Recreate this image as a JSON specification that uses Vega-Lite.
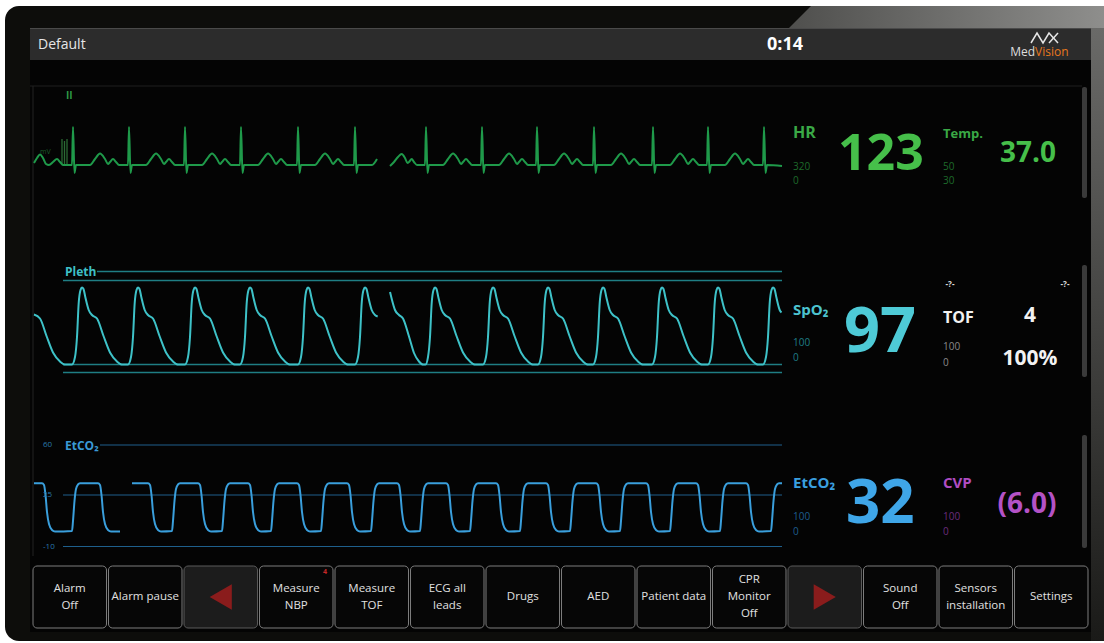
{
"$schema": "https://vega.github.io/schema/vega-lite/v6.json",
"width": 1104, "height": 643,
"autosize": {"type": "fit", "contains": "padding"},
"padding": 0,
"background": "#ffffff",
"config": {"view": {"stroke": null}, "text": {"font": "Open Sans"}},
"encoding": {
  "x": {"field": "x", "type": "quantitative", "scale": {"domain": [0, 1104], "nice": false, "zero": false}, "axis": null},
  "y": {"field": "y", "type": "quantitative", "scale": {"domain": [0, 643], "nice": false, "zero": false, "reverse": true}, "axis": null}
},
"layer": [
  {"data": {"values": [{"x": 5, "x2": 1104, "y": 6, "y2": 641}]},
   "mark": {"type": "rect", "color": "#0d0d0b", "cornerRadiusTopLeft": 14, "cornerRadiusBottomLeft": 14},
   "encoding": {"x2": {"field": "x2"}, "y2": {"field": "y2"}}},
  {"data": {"values": [{"x": 789, "y": 28, "y2": 28}, {"x": 811, "y": 6, "y2": 28}, {"x": 1104, "y": 6, "y2": 28}]},
   "mark": {"type": "area", "orient": "vertical", "interpolate": "linear",
     "color": {"gradient": "linear", "x1": 0, "x2": 1, "y1": 0, "y2": 0, "stops": [{"offset": 0, "color": "#4f4f4d"}, {"offset": 1, "color": "#8e8e8c"}]}},
   "encoding": {"y2": {"field": "y2"}}},
  {"data": {"values": [{"x": 1091, "x2": 1104, "y": 28, "y2": 641}]},
   "mark": {"type": "rect",
     "color": {"gradient": "linear", "x1": 0, "x2": 0, "y1": 0, "y2": 1, "stops": [{"offset": 0, "color": "#6a6a68"}, {"offset": 0.6, "color": "#3a3a38"}, {"offset": 1, "color": "#1a1a18"}]}},
   "encoding": {"x2": {"field": "x2"}, "y2": {"field": "y2"}}},
  {"data": {"values": [{"x": 30, "x2": 1091, "y": 28, "y2": 632}]},
   "mark": {"type": "rect", "color": "#040404"},
   "encoding": {"x2": {"field": "x2"}, "y2": {"field": "y2"}}},
  {"data": {"values": [{"x": 30, "x2": 1091, "y": 28, "y2": 60}]},
   "mark": {"type": "rect", "color": "#2c2c2c"},
   "encoding": {"x2": {"field": "x2"}, "y2": {"field": "y2"}}},
  {"data": {"values": [{"x": 30, "x2": 1091, "y": 28.5}]},
   "mark": {"type": "rule", "color": "#4a4a4a", "strokeWidth": 1},
   "encoding": {"x2": {"field": "x2"}}},
  {"data": {"values": [{"x": 30, "x2": 1082, "y": 86}]},
   "mark": {"type": "rule", "color": "#1e1e1e", "strokeWidth": 1},
   "encoding": {"x2": {"field": "x2"}}},
  {"data": {"values": [{"x": 33, "y": 86, "y2": 556}]},
   "mark": {"type": "rule", "color": "#222222", "strokeWidth": 1},
   "encoding": {"y2": {"field": "y2"}}},
  {"data": {"values": [{"x": 1082, "x2": 1087, "y": 87, "y2": 198}, {"x": 1082, "x2": 1087, "y": 265, "y2": 377}, {"x": 1082, "x2": 1087, "y": 435, "y2": 548}]},
   "mark": {"type": "rect", "color": "#3a3a3a", "cornerRadius": 2},
   "encoding": {"x2": {"field": "x2"}, "y2": {"field": "y2"}}},
  {"data": {"values": [
     {"x": 33, "x2": 106.5, "y": 566, "y2": 628},
     {"x": 108.5, "x2": 182, "y": 566, "y2": 628},
     {"x": 259.5, "x2": 333, "y": 566, "y2": 628},
     {"x": 335, "x2": 408.5, "y": 566, "y2": 628},
     {"x": 410.5, "x2": 484, "y": 566, "y2": 628},
     {"x": 486, "x2": 559.5, "y": 566, "y2": 628},
     {"x": 561.5, "x2": 635, "y": 566, "y2": 628},
     {"x": 637, "x2": 710.5, "y": 566, "y2": 628},
     {"x": 712.5, "x2": 786, "y": 566, "y2": 628},
     {"x": 863.5, "x2": 937, "y": 566, "y2": 628},
     {"x": 939, "x2": 1012.5, "y": 566, "y2": 628},
     {"x": 1014.5, "x2": 1088, "y": 566, "y2": 628}]},
   "mark": {"type": "rect", "fill": "#060606", "stroke": "#7c7c7c", "strokeWidth": 1, "cornerRadius": 4},
   "encoding": {"x2": {"field": "x2"}, "y2": {"field": "y2"}}},
  {"data": {"values": [{"x": 184, "x2": 257.5, "y": 566, "y2": 628}, {"x": 788, "x2": 861.5, "y": 566, "y2": 628}]},
   "mark": {"type": "rect", "fill": "#1c1c1c", "stroke": "#5a5a5a", "strokeWidth": 1, "cornerRadius": 4},
   "encoding": {"x2": {"field": "x2"}, "y2": {"field": "y2"}}},
  {"data": {"values": [{"x": 220.75, "y": 597}]},
   "mark": {"type": "point", "shape": "triangle-left", "size": 650, "filled": true, "color": "#8a1c1c", "opacity": 1}},
  {"data": {"values": [{"x": 824.75, "y": 597}]},
   "mark": {"type": "point", "shape": "triangle-right", "size": 650, "filled": true, "color": "#8a1c1c", "opacity": 1}},
  {"data": {"values": [
     {"x": 69.75, "y": 588.5, "t": "Alarm\nOff"},
     {"x": 145.25, "y": 597, "t": "Alarm pause"},
     {"x": 296.25, "y": 588.5, "t": "Measure\nNBP"},
     {"x": 371.75, "y": 588.5, "t": "Measure\nTOF"},
     {"x": 447.25, "y": 588.5, "t": "ECG all\nleads"},
     {"x": 522.75, "y": 597, "t": "Drugs"},
     {"x": 598.25, "y": 597, "t": "AED"},
     {"x": 673.75, "y": 597, "t": "Patient data"},
     {"x": 749.25, "y": 580, "t": "CPR\nMonitor\nOff"},
     {"x": 900.25, "y": 588.5, "t": "Sound\nOff"},
     {"x": 975.75, "y": 588.5, "t": "Sensors\ninstallation"},
     {"x": 1051.25, "y": 597, "t": "Settings"}]},
   "mark": {"type": "text", "fontSize": 11.5, "color": "#e0e0e0", "align": "center", "baseline": "middle", "lineBreak": "\n", "lineHeight": 17},
   "encoding": {"text": {"field": "t"}}},
  {"data": {"values": [{"x": 325, "y": 572, "t": "4"}]},
   "mark": {"type": "text", "fontSize": 7, "fontWeight": "bold", "color": "#c62828", "align": "center", "baseline": "middle"},
   "encoding": {"text": {"field": "t"}}},
  {"data": {"values": [{"x": 97, "x2": 782, "y": 271.5}, {"x": 63, "x2": 782, "y": 280.5}, {"x": 63, "x2": 782, "y": 364.5}, {"x": 63, "x2": 782, "y": 372.5}]},
   "mark": {"type": "rule", "color": "#1f7e84", "strokeWidth": 1.5},
   "encoding": {"x2": {"field": "x2"}}},
  {"data": {"values": [{"x": 100, "x2": 782, "y": 445}, {"x": 63, "x2": 782, "y": 495}, {"x": 63, "x2": 782, "y": 546.5}]},
   "mark": {"type": "rule", "color": "#1e5f8c", "strokeWidth": 1.2},
   "encoding": {"x2": {"field": "x2"}}},
  {"data": {"values": [{"x": 62, "y": 139, "y2": 164}, {"x": 64.5, "y": 141, "y2": 164}, {"x": 67, "y": 139, "y2": 164}]},
   "mark": {"type": "rule", "color": "#2a6a34", "strokeWidth": 1.3},
   "encoding": {"y2": {"field": "y2"}}},
  {"data": {"values": [
     {"s":"a","x":34,"y":163},{"s":"a","x":37,"y":158},{"s":"a","x":40,"y":154.5},{"s":"a","x":43,"y":158},{"s":"a","x":46,"y":164},{"s":"a","x":49,"y":165},{"s":"a","x":53,"y":162},{"s":"a","x":57,"y":159},{"s":"a","x":60,"y":162},{"s":"a","x":63,"y":165},
     {"s":"a","x":72,"y":165},{"s":"a","x":73,"y":127},{"s":"a","x":74.5,"y":173},{"s":"a","x":76,"y":165},{"s":"a","x":90,"y":165},{"s":"a","x":95,"y":159},{"s":"a","x":100,"y":153.5},{"s":"a","x":105,"y":159},{"s":"a","x":108,"y":164},{"s":"a","x":110,"y":162},{"s":"a","x":113,"y":159},{"s":"a","x":116,"y":162},{"s":"a","x":119,"y":165},
     {"s":"a","x":128,"y":165},{"s":"a","x":129,"y":127},{"s":"a","x":130.5,"y":173},{"s":"a","x":132,"y":165},{"s":"a","x":146,"y":165},{"s":"a","x":151,"y":159},{"s":"a","x":156,"y":153.5},{"s":"a","x":161,"y":159},{"s":"a","x":164,"y":164},{"s":"a","x":166,"y":162},{"s":"a","x":169,"y":159},{"s":"a","x":172,"y":162},{"s":"a","x":175,"y":165},
     {"s":"a","x":184,"y":165},{"s":"a","x":185,"y":127},{"s":"a","x":186.5,"y":173},{"s":"a","x":188,"y":165},{"s":"a","x":202,"y":165},{"s":"a","x":207,"y":159},{"s":"a","x":212,"y":153.5},{"s":"a","x":217,"y":159},{"s":"a","x":220,"y":164},{"s":"a","x":222,"y":162},{"s":"a","x":225,"y":159},{"s":"a","x":228,"y":162},{"s":"a","x":231,"y":165},
     {"s":"a","x":240,"y":165},{"s":"a","x":241,"y":127},{"s":"a","x":242.5,"y":173},{"s":"a","x":244,"y":165},{"s":"a","x":258,"y":165},{"s":"a","x":263,"y":159},{"s":"a","x":268,"y":153.5},{"s":"a","x":273,"y":159},{"s":"a","x":276,"y":164},{"s":"a","x":278,"y":162},{"s":"a","x":281,"y":159},{"s":"a","x":284,"y":162},{"s":"a","x":287,"y":165},
     {"s":"a","x":297,"y":165},{"s":"a","x":298,"y":127},{"s":"a","x":299.5,"y":173},{"s":"a","x":301,"y":165},{"s":"a","x":315,"y":165},{"s":"a","x":320,"y":159},{"s":"a","x":325,"y":153.5},{"s":"a","x":330,"y":159},{"s":"a","x":333,"y":164},{"s":"a","x":335,"y":162},{"s":"a","x":338,"y":159},{"s":"a","x":341,"y":162},{"s":"a","x":344,"y":165},
     {"s":"a","x":354,"y":165},{"s":"a","x":355,"y":127},{"s":"a","x":356.5,"y":173},{"s":"a","x":358,"y":165},{"s":"a","x":372,"y":165},{"s":"a","x":377,"y":159},
     {"s":"b","x":390,"y":166},{"s":"b","x":394,"y":162},{"s":"b","x":398,"y":157},{"s":"b","x":401.7,"y":154},{"s":"b","x":405,"y":158},{"s":"b","x":407.5,"y":163},{"s":"b","x":409,"y":162},{"s":"b","x":411.7,"y":159},{"s":"b","x":414,"y":162},{"s":"b","x":417,"y":165},
     {"s":"b","x":425,"y":165},{"s":"b","x":426,"y":127},{"s":"b","x":427.5,"y":173},{"s":"b","x":429,"y":165},{"s":"b","x":443,"y":165},{"s":"b","x":448,"y":159},{"s":"b","x":453,"y":153.5},{"s":"b","x":458,"y":159},{"s":"b","x":461,"y":164},{"s":"b","x":463,"y":162},{"s":"b","x":466,"y":159},{"s":"b","x":469,"y":162},{"s":"b","x":472,"y":165},
     {"s":"b","x":481,"y":165},{"s":"b","x":482,"y":127},{"s":"b","x":483.5,"y":173},{"s":"b","x":485,"y":165},{"s":"b","x":499,"y":165},{"s":"b","x":504,"y":159},{"s":"b","x":509,"y":153.5},{"s":"b","x":514,"y":159},{"s":"b","x":517,"y":164},{"s":"b","x":519,"y":162},{"s":"b","x":522,"y":159},{"s":"b","x":525,"y":162},{"s":"b","x":528,"y":165},
     {"s":"b","x":536,"y":165},{"s":"b","x":537,"y":127},{"s":"b","x":538.5,"y":173},{"s":"b","x":540,"y":165},{"s":"b","x":554,"y":165},{"s":"b","x":559,"y":159},{"s":"b","x":564,"y":153.5},{"s":"b","x":569,"y":159},{"s":"b","x":572,"y":164},{"s":"b","x":574,"y":162},{"s":"b","x":577,"y":159},{"s":"b","x":580,"y":162},{"s":"b","x":583,"y":165},
     {"s":"b","x":593,"y":165},{"s":"b","x":594,"y":127},{"s":"b","x":595.5,"y":173},{"s":"b","x":597,"y":165},{"s":"b","x":611,"y":165},{"s":"b","x":616,"y":159},{"s":"b","x":621,"y":153.5},{"s":"b","x":626,"y":159},{"s":"b","x":629,"y":164},{"s":"b","x":631,"y":162},{"s":"b","x":634,"y":159},{"s":"b","x":637,"y":162},{"s":"b","x":640,"y":165},
     {"s":"b","x":652,"y":165},{"s":"b","x":653,"y":127},{"s":"b","x":654.5,"y":173},{"s":"b","x":656,"y":165},{"s":"b","x":670,"y":165},{"s":"b","x":675,"y":159},{"s":"b","x":680,"y":153.5},{"s":"b","x":685,"y":159},{"s":"b","x":688,"y":164},{"s":"b","x":690,"y":162},{"s":"b","x":693,"y":159},{"s":"b","x":696,"y":162},{"s":"b","x":699,"y":165},
     {"s":"b","x":707,"y":165},{"s":"b","x":708,"y":127},{"s":"b","x":709.5,"y":173},{"s":"b","x":711,"y":165},{"s":"b","x":725,"y":165},{"s":"b","x":730,"y":159},{"s":"b","x":735,"y":153.5},{"s":"b","x":740,"y":159},{"s":"b","x":743,"y":164},{"s":"b","x":745,"y":162},{"s":"b","x":748,"y":159},{"s":"b","x":751,"y":162},{"s":"b","x":754,"y":165},
     {"s":"b","x":763,"y":165},{"s":"b","x":764,"y":127},{"s":"b","x":765.5,"y":173},{"s":"b","x":767,"y":165},{"s":"b","x":782,"y":166}]},
   "mark": {"type": "line", "color": "#1f9a4a", "strokeWidth": 2, "interpolate": "monotone"},
   "encoding": {"detail": {"field": "s"}}},
  {"data": {"values": [
     {"s":"a","x":34,"y":314.5},{"s":"a","x":40,"y":318.5},{"s":"a","x":46.7,"y":336.5},{"s":"a","x":53.3,"y":353},{"s":"a","x":60,"y":361.5},{"s":"a","x":65,"y":364.5},
     {"s":"a","x":72,"y":364.5},{"s":"a","x":75,"y":357},{"s":"a","x":77,"y":337},{"s":"a","x":78.7,"y":303},{"s":"a","x":80.5,"y":290},{"s":"a","x":82,"y":287.5},{"s":"a","x":83.5,"y":289},{"s":"a","x":85.3,"y":297},{"s":"a","x":88.7,"y":310},{"s":"a","x":92,"y":315},{"s":"a","x":97,"y":318.5},{"s":"a","x":103.7,"y":336.5},{"s":"a","x":110.3,"y":353},{"s":"a","x":117,"y":361.5},{"s":"a","x":122,"y":364.5},
     {"s":"a","x":128,"y":364.5},{"s":"a","x":131,"y":357},{"s":"a","x":133,"y":337},{"s":"a","x":134.7,"y":303},{"s":"a","x":136.5,"y":290},{"s":"a","x":138,"y":287.5},{"s":"a","x":139.5,"y":289},{"s":"a","x":141.3,"y":297},{"s":"a","x":144.7,"y":310},{"s":"a","x":148,"y":315},{"s":"a","x":153,"y":318.5},{"s":"a","x":159.7,"y":336.5},{"s":"a","x":166.3,"y":353},{"s":"a","x":173,"y":361.5},{"s":"a","x":178,"y":364.5},
     {"s":"a","x":185,"y":364.5},{"s":"a","x":188,"y":357},{"s":"a","x":190,"y":337},{"s":"a","x":191.7,"y":303},{"s":"a","x":193.5,"y":290},{"s":"a","x":195,"y":287.5},{"s":"a","x":196.5,"y":289},{"s":"a","x":198.3,"y":297},{"s":"a","x":201.7,"y":310},{"s":"a","x":205,"y":315},{"s":"a","x":210,"y":318.5},{"s":"a","x":216.7,"y":336.5},{"s":"a","x":223.3,"y":353},{"s":"a","x":230,"y":361.5},{"s":"a","x":235,"y":364.5},
     {"s":"a","x":240,"y":364.5},{"s":"a","x":243,"y":357},{"s":"a","x":245,"y":337},{"s":"a","x":246.7,"y":303},{"s":"a","x":248.5,"y":290},{"s":"a","x":250,"y":287.5},{"s":"a","x":251.5,"y":289},{"s":"a","x":253.3,"y":297},{"s":"a","x":256.7,"y":310},{"s":"a","x":260,"y":315},{"s":"a","x":265,"y":318.5},{"s":"a","x":271.7,"y":336.5},{"s":"a","x":278.3,"y":353},{"s":"a","x":285,"y":361.5},{"s":"a","x":290,"y":364.5},
     {"s":"a","x":298,"y":364.5},{"s":"a","x":301,"y":357},{"s":"a","x":303,"y":337},{"s":"a","x":304.7,"y":303},{"s":"a","x":306.5,"y":290},{"s":"a","x":308,"y":287.5},{"s":"a","x":309.5,"y":289},{"s":"a","x":311.3,"y":297},{"s":"a","x":314.7,"y":310},{"s":"a","x":318,"y":315},{"s":"a","x":323,"y":318.5},{"s":"a","x":329.7,"y":336.5},{"s":"a","x":336.3,"y":353},{"s":"a","x":343,"y":361.5},{"s":"a","x":348,"y":364.5},
     {"s":"a","x":355,"y":364.5},{"s":"a","x":358,"y":357},{"s":"a","x":360,"y":337},{"s":"a","x":361.7,"y":303},{"s":"a","x":363.5,"y":290},{"s":"a","x":365,"y":287.5},{"s":"a","x":366.5,"y":289},{"s":"a","x":368.3,"y":297},{"s":"a","x":371.7,"y":310},{"s":"a","x":375,"y":315},{"s":"a","x":377.7,"y":316.5},
     {"s":"b","x":390,"y":292},{"s":"b","x":392,"y":300},{"s":"b","x":395,"y":310},{"s":"b","x":399,"y":315},{"s":"b","x":403,"y":318.5},{"s":"b","x":409,"y":336.5},{"s":"b","x":414,"y":353},{"s":"b","x":419,"y":361.5},{"s":"b","x":423,"y":364.5},
     {"s":"b","x":425.5,"y":364.5},{"s":"b","x":428,"y":357},{"s":"b","x":430,"y":337},{"s":"b","x":431.7,"y":303},{"s":"b","x":433.5,"y":290},{"s":"b","x":435,"y":287.5},{"s":"b","x":436.5,"y":289},{"s":"b","x":438.3,"y":297},{"s":"b","x":441.7,"y":310},{"s":"b","x":445,"y":315},{"s":"b","x":450,"y":318.5},{"s":"b","x":456.7,"y":336.5},{"s":"b","x":463.3,"y":353},{"s":"b","x":470,"y":361.5},{"s":"b","x":475,"y":364.5},
     {"s":"b","x":483,"y":364.5},{"s":"b","x":486,"y":357},{"s":"b","x":488,"y":337},{"s":"b","x":489.7,"y":303},{"s":"b","x":491.5,"y":290},{"s":"b","x":493,"y":287.5},{"s":"b","x":494.5,"y":289},{"s":"b","x":496.3,"y":297},{"s":"b","x":499.7,"y":310},{"s":"b","x":503,"y":315},{"s":"b","x":508,"y":318.5},{"s":"b","x":514.7,"y":336.5},{"s":"b","x":521.3,"y":353},{"s":"b","x":528,"y":361.5},{"s":"b","x":533,"y":364.5},
     {"s":"b","x":538,"y":364.5},{"s":"b","x":541,"y":357},{"s":"b","x":543,"y":337},{"s":"b","x":544.7,"y":303},{"s":"b","x":546.5,"y":290},{"s":"b","x":548,"y":287.5},{"s":"b","x":549.5,"y":289},{"s":"b","x":551.3,"y":297},{"s":"b","x":554.7,"y":310},{"s":"b","x":558,"y":315},{"s":"b","x":563,"y":318.5},{"s":"b","x":569.7,"y":336.5},{"s":"b","x":576.3,"y":353},{"s":"b","x":583,"y":361.5},{"s":"b","x":588,"y":364.5},
     {"s":"b","x":593,"y":364.5},{"s":"b","x":596,"y":357},{"s":"b","x":598,"y":337},{"s":"b","x":599.7,"y":303},{"s":"b","x":601.5,"y":290},{"s":"b","x":603,"y":287.5},{"s":"b","x":604.5,"y":289},{"s":"b","x":606.3,"y":297},{"s":"b","x":609.7,"y":310},{"s":"b","x":613,"y":315},{"s":"b","x":618,"y":318.5},{"s":"b","x":624.7,"y":336.5},{"s":"b","x":631.3,"y":353},{"s":"b","x":638,"y":361.5},{"s":"b","x":643,"y":364.5},
     {"s":"b","x":652,"y":364.5},{"s":"b","x":655,"y":357},{"s":"b","x":657,"y":337},{"s":"b","x":658.7,"y":303},{"s":"b","x":660.5,"y":290},{"s":"b","x":662,"y":287.5},{"s":"b","x":663.5,"y":289},{"s":"b","x":665.3,"y":297},{"s":"b","x":668.7,"y":310},{"s":"b","x":672,"y":315},{"s":"b","x":677,"y":318.5},{"s":"b","x":683.7,"y":336.5},{"s":"b","x":690.3,"y":353},{"s":"b","x":697,"y":361.5},{"s":"b","x":702,"y":364.5},
     {"s":"b","x":708,"y":364.5},{"s":"b","x":711,"y":357},{"s":"b","x":713,"y":337},{"s":"b","x":714.7,"y":303},{"s":"b","x":716.5,"y":290},{"s":"b","x":718,"y":287.5},{"s":"b","x":719.5,"y":289},{"s":"b","x":721.3,"y":297},{"s":"b","x":724.7,"y":310},{"s":"b","x":728,"y":315},{"s":"b","x":733,"y":318.5},{"s":"b","x":739.7,"y":336.5},{"s":"b","x":746.3,"y":353},{"s":"b","x":753,"y":361.5},{"s":"b","x":758,"y":364.5},
     {"s":"b","x":763,"y":364.5},{"s":"b","x":766,"y":357},{"s":"b","x":768,"y":337},{"s":"b","x":769.7,"y":303},{"s":"b","x":771.5,"y":290},{"s":"b","x":773,"y":287.5},{"s":"b","x":774.5,"y":289},{"s":"b","x":776.3,"y":297},{"s":"b","x":779.7,"y":310},{"s":"b","x":781.5,"y":312.5}]},
   "mark": {"type": "line", "color": "#3ec2c8", "strokeWidth": 2, "interpolate": "monotone"},
   "encoding": {"detail": {"field": "s"}}},
  {"data": {"values": [
     {"s":"a","x":34,"y":483.3},{"s":"a","x":42,"y":483.3},{"s":"a","x":44,"y":485},{"s":"a","x":45.5,"y":495},{"s":"a","x":47,"y":512},{"s":"a","x":49,"y":524},{"s":"a","x":52,"y":530},{"s":"a","x":55,"y":531.5},
     {"s":"a","x":72,"y":531},{"s":"a","x":73,"y":521},{"s":"a","x":74.5,"y":501},{"s":"a","x":76,"y":489},{"s":"a","x":78,"y":484.5},{"s":"a","x":80,"y":483.3},{"s":"a","x":98,"y":483.3},{"s":"a","x":100,"y":485},{"s":"a","x":101.5,"y":495},{"s":"a","x":103,"y":512},{"s":"a","x":105,"y":524},{"s":"a","x":108,"y":530},{"s":"a","x":111,"y":531.5},{"s":"a","x":120,"y":531.5},
     {"s":"b","x":132,"y":483.3},{"s":"b","x":148,"y":483.3},{"s":"b","x":150,"y":485},{"s":"b","x":151.5,"y":495},{"s":"b","x":153,"y":512},{"s":"b","x":155,"y":524},{"s":"b","x":158,"y":530},{"s":"b","x":161,"y":531.5},
     {"s":"b","x":172,"y":531},{"s":"b","x":173,"y":521},{"s":"b","x":174.5,"y":501},{"s":"b","x":176,"y":489},{"s":"b","x":178,"y":484.5},{"s":"b","x":180,"y":483.3},{"s":"b","x":198,"y":483.3},{"s":"b","x":200,"y":485},{"s":"b","x":201.5,"y":495},{"s":"b","x":203,"y":512},{"s":"b","x":205,"y":524},{"s":"b","x":208,"y":530},{"s":"b","x":211,"y":531.5},
     {"s":"b","x":222,"y":531},{"s":"b","x":223,"y":521},{"s":"b","x":224.5,"y":501},{"s":"b","x":226,"y":489},{"s":"b","x":228,"y":484.5},{"s":"b","x":230,"y":483.3},{"s":"b","x":248,"y":483.3},{"s":"b","x":250,"y":485},{"s":"b","x":251.5,"y":495},{"s":"b","x":253,"y":512},{"s":"b","x":255,"y":524},{"s":"b","x":258,"y":530},{"s":"b","x":261,"y":531.5},
     {"s":"b","x":271,"y":531},{"s":"b","x":272,"y":521},{"s":"b","x":273.5,"y":501},{"s":"b","x":275,"y":489},{"s":"b","x":277,"y":484.5},{"s":"b","x":279,"y":483.3},{"s":"b","x":297,"y":483.3},{"s":"b","x":299,"y":485},{"s":"b","x":300.5,"y":495},{"s":"b","x":302,"y":512},{"s":"b","x":304,"y":524},{"s":"b","x":307,"y":530},{"s":"b","x":310,"y":531.5},
     {"s":"b","x":321,"y":531},{"s":"b","x":322,"y":521},{"s":"b","x":323.5,"y":501},{"s":"b","x":325,"y":489},{"s":"b","x":327,"y":484.5},{"s":"b","x":329,"y":483.3},{"s":"b","x":347,"y":483.3},{"s":"b","x":349,"y":485},{"s":"b","x":350.5,"y":495},{"s":"b","x":352,"y":512},{"s":"b","x":354,"y":524},{"s":"b","x":357,"y":530},{"s":"b","x":360,"y":531.5},
     {"s":"b","x":371,"y":531},{"s":"b","x":372,"y":521},{"s":"b","x":373.5,"y":501},{"s":"b","x":375,"y":489},{"s":"b","x":377,"y":484.5},{"s":"b","x":379,"y":483.3},{"s":"b","x":397,"y":483.3},{"s":"b","x":399,"y":485},{"s":"b","x":400.5,"y":495},{"s":"b","x":402,"y":512},{"s":"b","x":404,"y":524},{"s":"b","x":407,"y":530},{"s":"b","x":410,"y":531.5},
     {"s":"b","x":420,"y":531},{"s":"b","x":421,"y":521},{"s":"b","x":422.5,"y":501},{"s":"b","x":424,"y":489},{"s":"b","x":426,"y":484.5},{"s":"b","x":428,"y":483.3},{"s":"b","x":446,"y":483.3},{"s":"b","x":448,"y":485},{"s":"b","x":449.5,"y":495},{"s":"b","x":451,"y":512},{"s":"b","x":453,"y":524},{"s":"b","x":456,"y":530},{"s":"b","x":459,"y":531.5},
     {"s":"b","x":470,"y":531},{"s":"b","x":471,"y":521},{"s":"b","x":472.5,"y":501},{"s":"b","x":474,"y":489},{"s":"b","x":476,"y":484.5},{"s":"b","x":478,"y":483.3},{"s":"b","x":496,"y":483.3},{"s":"b","x":498,"y":485},{"s":"b","x":499.5,"y":495},{"s":"b","x":501,"y":512},{"s":"b","x":503,"y":524},{"s":"b","x":506,"y":530},{"s":"b","x":509,"y":531.5},
     {"s":"b","x":520,"y":531},{"s":"b","x":521,"y":521},{"s":"b","x":522.5,"y":501},{"s":"b","x":524,"y":489},{"s":"b","x":526,"y":484.5},{"s":"b","x":528,"y":483.3},{"s":"b","x":546,"y":483.3},{"s":"b","x":548,"y":485},{"s":"b","x":549.5,"y":495},{"s":"b","x":551,"y":512},{"s":"b","x":553,"y":524},{"s":"b","x":556,"y":530},{"s":"b","x":559,"y":531.5},
     {"s":"b","x":570,"y":531},{"s":"b","x":571,"y":521},{"s":"b","x":572.5,"y":501},{"s":"b","x":574,"y":489},{"s":"b","x":576,"y":484.5},{"s":"b","x":578,"y":483.3},{"s":"b","x":596,"y":483.3},{"s":"b","x":598,"y":485},{"s":"b","x":599.5,"y":495},{"s":"b","x":601,"y":512},{"s":"b","x":603,"y":524},{"s":"b","x":606,"y":530},{"s":"b","x":609,"y":531.5},
     {"s":"b","x":620,"y":531},{"s":"b","x":621,"y":521},{"s":"b","x":622.5,"y":501},{"s":"b","x":624,"y":489},{"s":"b","x":626,"y":484.5},{"s":"b","x":628,"y":483.3},{"s":"b","x":646,"y":483.3},{"s":"b","x":648,"y":485},{"s":"b","x":649.5,"y":495},{"s":"b","x":651,"y":512},{"s":"b","x":653,"y":524},{"s":"b","x":656,"y":530},{"s":"b","x":659,"y":531.5},
     {"s":"b","x":670,"y":531},{"s":"b","x":671,"y":521},{"s":"b","x":672.5,"y":501},{"s":"b","x":674,"y":489},{"s":"b","x":676,"y":484.5},{"s":"b","x":678,"y":483.3},{"s":"b","x":696,"y":483.3},{"s":"b","x":698,"y":485},{"s":"b","x":699.5,"y":495},{"s":"b","x":701,"y":512},{"s":"b","x":703,"y":524},{"s":"b","x":706,"y":530},{"s":"b","x":709,"y":531.5},
     {"s":"b","x":720,"y":531},{"s":"b","x":721,"y":521},{"s":"b","x":722.5,"y":501},{"s":"b","x":724,"y":489},{"s":"b","x":726,"y":484.5},{"s":"b","x":728,"y":483.3},{"s":"b","x":746,"y":483.3},{"s":"b","x":748,"y":485},{"s":"b","x":749.5,"y":495},{"s":"b","x":751,"y":512},{"s":"b","x":753,"y":524},{"s":"b","x":756,"y":530},{"s":"b","x":759,"y":531.5},
     {"s":"b","x":771,"y":531},{"s":"b","x":772,"y":521},{"s":"b","x":773.5,"y":501},{"s":"b","x":775,"y":489},{"s":"b","x":777,"y":484.5},{"s":"b","x":779,"y":483.3},{"s":"b","x":782,"y":483.3}]},
   "mark": {"type": "line", "color": "#3a9fdc", "strokeWidth": 2, "interpolate": "monotone"},
   "encoding": {"detail": {"field": "s"}}},
  {"data": {"values": [
     {"g":"z","x":1031,"y":43},{"g":"z","x":1037,"y":33},{"g":"z","x":1043,"y":43},{"g":"z","x":1049,"y":33},{"g":"z","x":1058,"y":43},
     {"g":"k","x":1049,"y":43},{"g":"k","x":1058,"y":33}]},
   "mark": {"type": "line", "color": "#e6e6e6", "strokeWidth": 1.5, "interpolate": "linear"},
   "encoding": {"detail": {"field": "g"}}},
  {"data": {"values": [{"x": 38, "y": 45, "t": "Default"}]},
   "mark": {"type": "text", "fontSize": 14, "color": "#e6e6e6", "align": "left", "baseline": "middle"},
   "encoding": {"text": {"field": "t"}}},
  {"data": {"values": [{"x": 785, "y": 45, "t": "0:14"}]},
   "mark": {"type": "text", "fontSize": 18, "fontWeight": "bold", "color": "#ffffff", "align": "center", "baseline": "middle"},
   "encoding": {"text": {"field": "t"}}},
  {"data": {"values": [{"x": 1035, "y": 52, "t": "Med"}]},
   "mark": {"type": "text", "fontSize": 12, "color": "#dddddd", "align": "right", "baseline": "middle"},
   "encoding": {"text": {"field": "t"}}},
  {"data": {"values": [{"x": 1035, "y": 52, "t": "Vision"}]},
   "mark": {"type": "text", "fontSize": 12, "color": "#e8781e", "align": "left", "baseline": "middle"},
   "encoding": {"text": {"field": "t"}}},
  {"data": {"values": [{"x": 66, "y": 96, "t": "II"}]},
   "mark": {"type": "text", "fontSize": 10, "fontWeight": "bold", "color": "#2e9a46", "align": "left", "baseline": "middle"},
   "encoding": {"text": {"field": "t"}}},
  {"data": {"values": [{"x": 40, "y": 152, "t": "mV"}]},
   "mark": {"type": "text", "fontSize": 7, "color": "#1c5e2a", "align": "left", "baseline": "middle"},
   "encoding": {"text": {"field": "t"}}},
  {"data": {"values": [{"x": 65, "y": 272, "t": "Pleth"}]},
   "mark": {"type": "text", "fontSize": 12, "fontWeight": "bold", "color": "#3ec0c6", "align": "left", "baseline": "middle"},
   "encoding": {"text": {"field": "t"}}},
  {"data": {"values": [{"x": 65, "y": 446, "t": "EtCO₂"}]},
   "mark": {"type": "text", "fontSize": 12, "fontWeight": "bold", "color": "#3a9ad6", "align": "left", "baseline": "middle"},
   "encoding": {"text": {"field": "t"}}},
  {"data": {"values": [{"x": 43, "y": 445, "t": "60"}, {"x": 43, "y": 495, "t": "25"}, {"x": 43, "y": 547, "t": "-10"}]},
   "mark": {"type": "text", "fontSize": 8, "color": "#2a79ab", "align": "left", "baseline": "middle"},
   "encoding": {"text": {"field": "t"}}},
  {"data": {"values": [{"x": 793, "y": 132.5, "t": "HR"}]},
   "mark": {"type": "text", "fontSize": 16, "fontWeight": "bold", "color": "#3aa946", "align": "left", "baseline": "middle"},
   "encoding": {"text": {"field": "t"}}},
  {"data": {"values": [{"x": 943, "y": 134, "t": "Temp."}]},
   "mark": {"type": "text", "fontSize": 13, "fontWeight": "bold", "color": "#3aa946", "align": "left", "baseline": "middle"},
   "encoding": {"text": {"field": "t"}}},
  {"data": {"values": [{"x": 793, "y": 166.7, "t": "320"}, {"x": 793, "y": 181, "t": "0"}, {"x": 943, "y": 166.7, "t": "50"}, {"x": 943, "y": 181, "t": "30"}]},
   "mark": {"type": "text", "fontSize": 10, "color": "#1e6b2b", "align": "left", "baseline": "middle"},
   "encoding": {"text": {"field": "t"}}},
  {"data": {"values": [{"x": 838, "y": 170, "t": "123"}]},
   "mark": {"type": "text", "fontSize": 50, "fontWeight": "bold", "color": "#46bf4a", "align": "left", "baseline": "alphabetic"},
   "encoding": {"text": {"field": "t"}}},
  {"data": {"values": [{"x": 1000, "y": 162, "t": "37.0"}]},
   "mark": {"type": "text", "fontSize": 28, "fontWeight": "bold", "color": "#46bf4a", "align": "left", "baseline": "alphabetic"},
   "encoding": {"text": {"field": "t"}}},
  {"data": {"values": [{"x": 793, "y": 310, "t": "SpO₂"}]},
   "mark": {"type": "text", "fontSize": 15, "fontWeight": "bold", "color": "#4cc3cf", "align": "left", "baseline": "middle"},
   "encoding": {"text": {"field": "t"}}},
  {"data": {"values": [{"x": 844, "y": 352, "t": "97"}]},
   "mark": {"type": "text", "fontSize": 63, "fontWeight": "bold", "color": "#4ecad6", "align": "left", "baseline": "alphabetic"},
   "encoding": {"text": {"field": "t"}}},
  {"data": {"values": [{"x": 793, "y": 342.7, "t": "100"}, {"x": 793, "y": 358.3, "t": "0"}]},
   "mark": {"type": "text", "fontSize": 10, "color": "#1f7d86", "align": "left", "baseline": "middle"},
   "encoding": {"text": {"field": "t"}}},
  {"data": {"values": [{"x": 950, "y": 285, "t": "-?-"}, {"x": 1065, "y": 285, "t": "-?-"}]},
   "mark": {"type": "text", "fontSize": 8, "fontWeight": "bold", "color": "#dddddd", "align": "center", "baseline": "middle"},
   "encoding": {"text": {"field": "t"}}},
  {"data": {"values": [{"x": 943, "y": 318, "t": "TOF"}]},
   "mark": {"type": "text", "fontSize": 16, "fontWeight": "bold", "color": "#f2f2f2", "align": "left", "baseline": "middle"},
   "encoding": {"text": {"field": "t"}}},
  {"data": {"values": [{"x": 1030, "y": 321.7, "t": "4"}, {"x": 1030, "y": 365, "t": "100%"}]},
   "mark": {"type": "text", "fontSize": 21, "fontWeight": "bold", "color": "#f2f2f2", "align": "center", "baseline": "alphabetic"},
   "encoding": {"text": {"field": "t"}}},
  {"data": {"values": [{"x": 943, "y": 347.3, "t": "100"}, {"x": 943, "y": 362.7, "t": "0"}]},
   "mark": {"type": "text", "fontSize": 10, "color": "#8a8a8a", "align": "left", "baseline": "middle"},
   "encoding": {"text": {"field": "t"}}},
  {"data": {"values": [{"x": 793, "y": 483, "t": "EtCO₂"}]},
   "mark": {"type": "text", "fontSize": 15, "fontWeight": "bold", "color": "#3a9fe0", "align": "left", "baseline": "middle"},
   "encoding": {"text": {"field": "t"}}},
  {"data": {"values": [{"x": 846, "y": 523.3, "t": "32"}]},
   "mark": {"type": "text", "fontSize": 60, "fontWeight": "bold", "color": "#3fa6e8", "align": "left", "baseline": "alphabetic"},
   "encoding": {"text": {"field": "t"}}},
  {"data": {"values": [{"x": 793, "y": 516.7, "t": "100"}, {"x": 793, "y": 531.7, "t": "0"}]},
   "mark": {"type": "text", "fontSize": 10, "color": "#1e5d8e", "align": "left", "baseline": "middle"},
   "encoding": {"text": {"field": "t"}}},
  {"data": {"values": [{"x": 943, "y": 483, "t": "CVP"}]},
   "mark": {"type": "text", "fontSize": 15, "fontWeight": "bold", "color": "#b04cc2", "align": "left", "baseline": "middle"},
   "encoding": {"text": {"field": "t"}}},
  {"data": {"values": [{"x": 1027, "y": 513, "t": "(6.0)"}]},
   "mark": {"type": "text", "fontSize": 28, "fontWeight": "bold", "color": "#b452c6", "align": "center", "baseline": "alphabetic"},
   "encoding": {"text": {"field": "t"}}},
  {"data": {"values": [{"x": 943, "y": 517.3, "t": "100"}, {"x": 943, "y": 531.7, "t": "0"}]},
   "mark": {"type": "text", "fontSize": 10, "color": "#6b2c7c", "align": "left", "baseline": "middle"},
   "encoding": {"text": {"field": "t"}}}
]
}
